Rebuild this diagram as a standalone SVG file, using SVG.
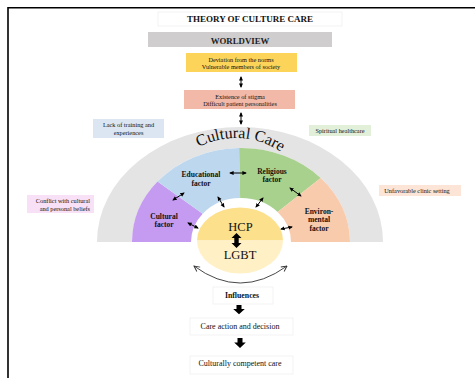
<svg xmlns="http://www.w3.org/2000/svg" width="475" height="378" viewBox="0 0 475 378">
<style>
  .t{font-family:"Liberation Serif","Times New Roman",serif;fill:#111;text-anchor:middle}
  .s{font-size:6.3px}
  .b{font-weight:bold}
  .f{font-size:7.5px;font-weight:bold}
  .big{font-size:12.5px}
  .ln{stroke:#000;stroke-width:1;fill:none;marker-start:url(#ah);marker-end:url(#ah)}
  .bx{fill:#fff;stroke:#f0f0f0;stroke-width:0.8}
</style>
<defs>
  <marker id="ah" viewBox="0 0 10 10" refX="8" refY="5" markerWidth="4.5" markerHeight="4.5" markerUnits="userSpaceOnUse" orient="auto-start-reverse">
    <path d="M0,0.5 L10,5 L0,9.5 z" fill="#000"/>
  </marker>
  <marker id="oh" viewBox="0 0 10 10" refX="9" refY="5" markerWidth="7" markerHeight="7" markerUnits="userSpaceOnUse" orient="auto-start-reverse">
    <path d="M1,1 L9,5 L1,9" fill="none" stroke="#333" stroke-width="1.3"/>
  </marker>
  <path id="arcTxt" d="M156,218 A80,80 0 0 1 316,218"/>
</defs>
<rect width="475" height="378" fill="#fff"/>
<path d="M8,378 V7.8 H475" fill="none" stroke="#000" stroke-width="1.6"/>

<g id="title">
  <rect x="158" y="12" width="184" height="14" class="bx"/>
  <text x="250" y="22.3" class="t b" style="font-size:9px">THEORY OF CULTURE  CARE</text>
</g>
<g id="worldview">
  <rect x="148" y="32" width="184" height="15" fill="#cfcdcd"/>
  <text x="240" y="43.5" class="t b" style="font-size:8.8px;fill:#222">WORLDVIEW</text>
</g>
<g id="deviation">
  <rect x="186" y="53" width="111" height="19" fill="#fcd45a"/>
  <text x="241" y="62" class="t s">Deviation from the norms</text>
  <text x="241" y="68.8" class="t s">Vulnerable members of society</text>
</g>
<g id="stigma">
  <rect x="184" y="90" width="111" height="19" fill="#f3b9a8"/>
  <text x="240" y="98.6" class="t s">Existence of stigma</text>
  <text x="240" y="105.6" class="t s">Difficult patient personalities</text>
</g>
<g id="lack">
  <rect x="93" y="119" width="71" height="19" fill="#dce6f2"/>
  <text x="128.5" y="127.3" class="t s">Lack of training and</text>
  <text x="128.5" y="134.6" class="t s">experiences</text>
</g>
<g id="spiritual">
  <rect x="309" y="125" width="62" height="11" fill="#e2efd9"/>
  <text x="340" y="132.6" class="t s">Spiritual healthcare</text>
</g>
<g id="conflict">
  <rect x="27" y="195" width="67" height="18" fill="#f8e1f6"/>
  <text x="90" y="203" class="t s" style="text-anchor:end">Conflict with cultural</text>
  <text x="90" y="210.8" class="t s" style="text-anchor:end">and personal beliefs</text>
</g>
<g id="unfavorable">
  <rect x="379" y="185" width="82" height="11" fill="#fce4d6"/>
  <text x="417" y="192.6" class="t s">Unfavorable clinic setting</text>
</g>

<g id="cultural-care">
  <path d="M97,242 A143,115 0 0 1 383,242 L350,242 A109,94 0 0 0 132,242 Z" fill="#e4e4e4"/>
  <text class="t" style="font-size:16px"><textPath href="#arcTxt" startOffset="130">Cultural Care</textPath></text>
</g>
<g id="cultural-factor">
  <path d="M132,242 A109,94 0 0 1 157.5,181.6 L202.7,213.7 A50,44 0 0 0 191,242 Z" fill="#c59bf1"/>
  <text x="164" y="218.5" class="t f">Cultural</text>
  <text x="164" y="227" class="t f">factor</text>
</g>
<g id="educational-factor">
  <path d="M157.5,181.6 A109,94 0 0 1 239.1,148 L240.1,198 A50,44 0 0 0 202.7,213.7 Z" fill="#bdd7ee"/>
  <text x="201" y="177" class="t f">Educational</text>
  <text x="201" y="186" class="t f">factor</text>
</g>
<g id="religious-factor">
  <path d="M239.1,148 A109,94 0 0 1 320.7,177.9 L277.6,212 A50,44 0 0 0 240.1,198 Z" fill="#a9d18e"/>
  <text x="272" y="173.7" class="t f">Religious</text>
  <text x="272" y="182" class="t f">factor</text>
</g>
<g id="environmental-factor">
  <path d="M320.7,177.9 A109,94 0 0 1 350,242 L291,242 A50,44 0 0 0 277.6,212 Z" fill="#f8cbad"/>
  <text x="319" y="213.5" class="t f">Environ-</text>
  <text x="319" y="222" class="t f">mental</text>
  <text x="319" y="230.7" class="t f">factor</text>
</g>
<g id="hcp-lgbt">
  <path d="M197,240.5 A43,33 0 0 1 283,240.5 Z" fill="#fde08c"/>
  <path d="M197,240.5 A43,33 0 0 0 283,240.5 Z" fill="#fff0c5"/>
  <text x="240.5" y="231" class="t big">HCP</text>
  <text x="240" y="259" class="t big">LGBT</text>
</g>
<g id="influences">
  <rect x="213" y="287" width="60" height="17" class="bx"/>
  <text x="242" y="298" class="t b" style="font-size:7.8px">Influences</text>
</g>
<g id="care-action">
  <rect x="190" y="318" width="103" height="17" class="bx"/>
  <text x="240" y="328.7" class="t" style="font-size:8px">Care action and decision</text>
</g>
<g id="competent">
  <rect x="190" y="356" width="103" height="18" class="bx"/>
  <text x="240" y="366.2" class="t" style="font-size:8px">Culturally competent care</text>
</g>

<g id="connectors">
  <line x1="241" y1="77" x2="241" y2="87" class="ln"/>
  <line x1="241" y1="113" x2="241" y2="124" class="ln"/>
  <line x1="173" y1="200" x2="184" y2="193" class="ln"/>
  <line x1="218" y1="197" x2="224" y2="207" class="ln"/>
  <line x1="230" y1="173" x2="246" y2="173" class="ln"/>
  <line x1="188" y1="223" x2="198" y2="228" class="ln"/>
  <line x1="256" y1="207" x2="263" y2="198" class="ln"/>
  <line x1="290" y1="188" x2="301" y2="196" class="ln"/>
  <line x1="281" y1="229" x2="292" y2="227" class="ln"/>
  <polygon points="236.5,233 241.5,238 238.7,238 238.7,243 241.5,243 236.5,248 231.5,243 234.3,243 234.3,238 231.5,238" fill="#000"/>
  <path d="M194,266 Q240,300 287,266" fill="none" stroke="#333" stroke-width="0.9" marker-start="url(#oh)" marker-end="url(#oh)"/>
  <path d="M236.5,305 h5 v4 h3.3 l-5.8,5.2 l-5.8,-5.2 h3.3 z" fill="#000"/>
  <path d="M237.5,338 h5 v4.5 h3.3 l-5.8,5.5 l-5.8,-5.5 h3.3 z" fill="#000"/>
</g>
</svg>
